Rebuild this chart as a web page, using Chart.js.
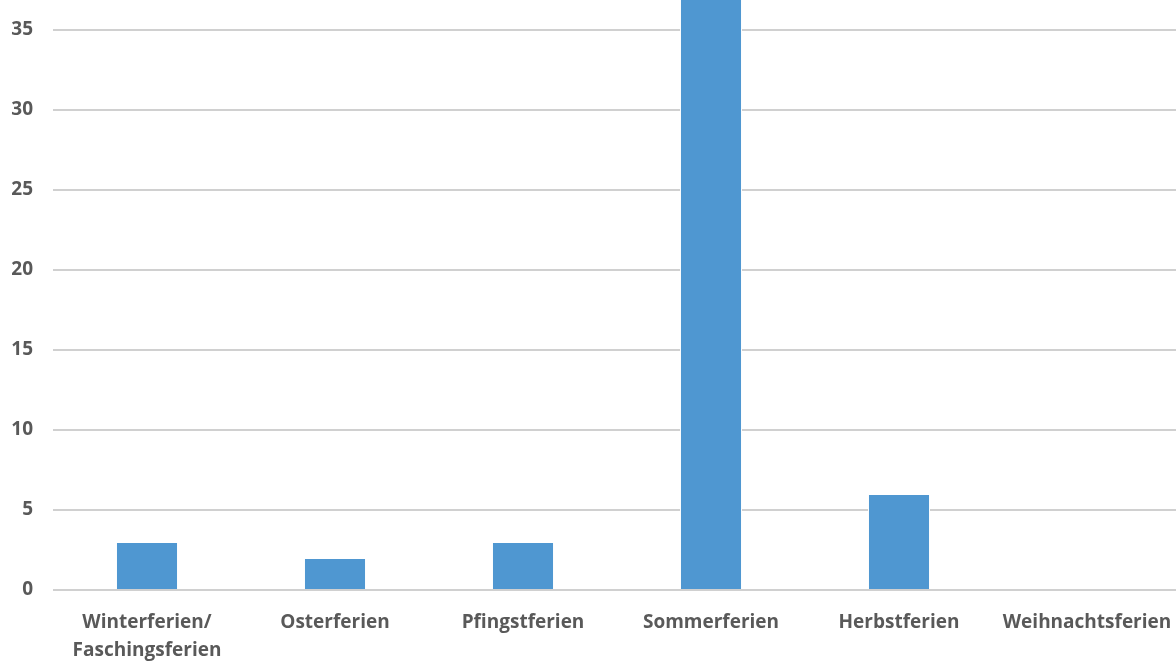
<!DOCTYPE html>
<html>
<head>
<meta charset="utf-8">
<script src="https://cdn.jsdelivr.net/npm/chart.js@4/dist/chart.umd.min.js"></script>
<style>
  html, body { margin: 0; padding: 0; background: #fff; overflow: hidden; }
  #wrap { width: 1176px; height: 664px; overflow: hidden; }
</style>
</head>
<body>
<div id="wrap"><canvas id="myChart" width="1190" height="664"></canvas></div>
<script>
var labels = [['Winterferien/', 'Faschingsferien'], 'Osterferien', 'Pfingstferien', 'Sommerferien', 'Herbstferien', 'Weihnachtsferien'];
var ferien = [3, 2, 3, 37, 6, 0];
var yTicks = [0, 5, 10, 15, 20, 25, 30, 35];

const data = {
    labels: labels,
    datasets: [{
    label: 'Ferien',
    backgroundColor: '#4f97d1',
    borderColor: '#ffffff',
    borderWidth: 1,
    data: ferien,
    barPercentage: 0.33,
    categoryPercentage: 1
    }]
};

const config = {
    type: 'bar',
    data: data,
    options: {
        responsive: false,
        animation: false,
        layout: { padding: { top: 0, right: 9, left: 0, bottom: 0 } },
        plugins: { legend: { display: false }, tooltip: { enabled: false } },
        scales: {
            x: {
                grid: { display: false, drawTicks: false },
                border: { display: false },
                ticks: {
                    color: '#595959',
                    font: { family: 'Open Sans', size: 19, weight: 'bold', lineHeight: 1.45 },
                    padding: 19,
                    maxRotation: 0,
                    autoSkip: false
                },
                afterFit: function (scale) {
                    scale.height = 74;
                    scale.paddingLeft = 0;
                    scale.paddingRight = 0;
                }
            },
            y: {
                min: 0,
                max: 36.875,
                grid: { color: '#d0d0d0', lineWidth: 2, drawTicks: false },
                border: { display: false },
                afterBuildTicks: function (scale) {
                    scale.ticks = yTicks.map(function (v) { return { value: v }; });
                },
                ticks: {
                    color: '#595959',
                    font: { family: 'Open Sans', size: 19, weight: 'bold' },
                    padding: 20
                },
                afterFit: function (scale) {
                    scale.width = 53;
                    scale.paddingTop = 0;
                    scale.paddingBottom = 0;
                }
            }
        }
    }
};

const myChart = new Chart(document.getElementById('myChart'), config);
</script>
</body>
</html>
